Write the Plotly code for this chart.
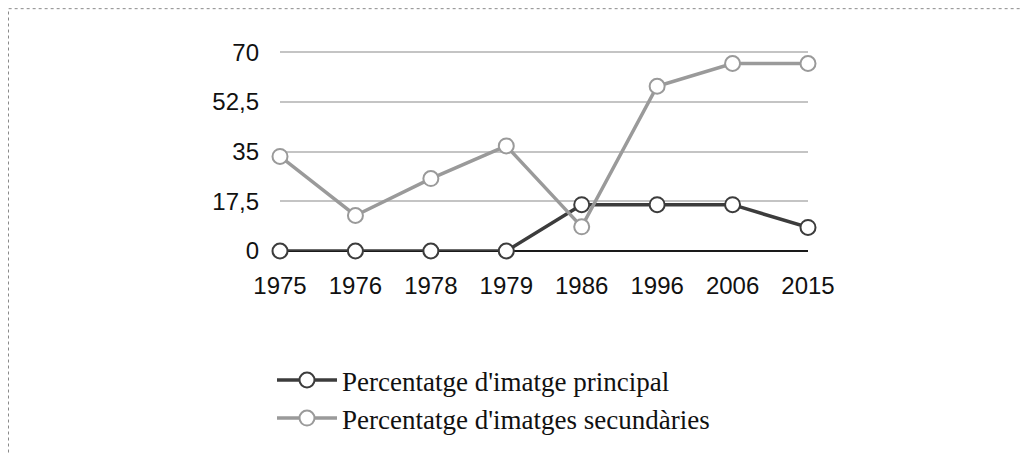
import plotly.graph_objects as go

years = ["1975", "1976", "1978", "1979", "1986", "1996", "2006", "2015"]
principal = [0, 0, 0, 0, 16.3, 16.3, 16.3, 8.3]
secundaries = [33.3, 12.5, 25.5, 37, 8.5, 58, 66, 66]
y_ticks = [0, 17.5, 35, 52.5, 70]
y_tick_text = ["0", "17,5", "35", "52,5", "70"]

# page body has an 8px margin; figure origin is at (8, 8) in the window
OFF = 8
W, H = 1029, 453
YMAX = 70.4
ph = 199 * YMAX / 70
L = 280 - OFF
R = W - (808 - OFF)
B = H - (251 - OFF)
T = H - B - ph
pw = W - L - R

fig = go.Figure()
fig.add_trace(go.Scatter(
    x=list(range(len(years))), y=principal, mode="lines+markers",
    name="Percentatge d'imatge principal",
    line=dict(color="#3c3c3c", width=3.5),
    marker=dict(symbol="circle", size=15, color="white",
                line=dict(color="#3c3c3c", width=2)),
    cliponaxis=False,
))
fig.add_trace(go.Scatter(
    x=list(range(len(years))), y=secundaries, mode="lines+markers",
    name="Percentatge d'imatges secundàries",
    line=dict(color="#9a9a9a", width=3.5),
    marker=dict(symbol="circle", size=15, color="white",
                line=dict(color="#9a9a9a", width=2)),
    cliponaxis=False,
))

def px_to_paper_x(px):
    return (px - OFF - L) / pw

def px_to_paper_y(py):
    return (H - B - (py - OFF)) / ph

fig.add_shape(type="rect", xref="paper", yref="paper",
              x0=px_to_paper_x(8.5), x1=px_to_paper_x(1023.5),
              y0=px_to_paper_y(520), y1=px_to_paper_y(8.5),
              line=dict(color="#8a8a8a", width=1, dash="dot"), layer="below")

fig.update_layout(
    width=W, height=H,
    margin=dict(l=L, r=R, t=T, b=B, pad=0),
    paper_bgcolor="white", plot_bgcolor="white",
    font=dict(family="Liberation Sans, Arial, sans-serif", size=24, color="#111111"),
    xaxis=dict(
        tickmode="array", tickvals=list(range(len(years))), ticktext=years,
        range=[0, 7], showgrid=False, zeroline=False, showline=False,
        ticks="", ticklabelstandoff=18,
        tickfont=dict(family="Liberation Sans, Arial, sans-serif", size=24, color="#111111"),
    ),
    yaxis=dict(
        tickmode="array", tickvals=y_ticks, ticktext=y_tick_text,
        range=[0, YMAX], showgrid=True, gridcolor="#c4c4c4", gridwidth=2,
        zeroline=True, zerolinecolor="#1a1a1a", zerolinewidth=1.5,
        showline=False, ticks="", ticklabelstandoff=20,
        tickfont=dict(family="Liberation Sans, Arial, sans-serif", size=24, color="#111111"),
    ),
    showlegend=True,
    legend=dict(
        x=px_to_paper_x(272), xanchor="left",
        y=px_to_paper_y(356), yanchor="top",
        bgcolor="rgba(0,0,0,0)",
        font=dict(family="Liberation Serif, Times New Roman, serif", size=27, color="#111111"),
        tracegroupgap=0, itemwidth=60,
    ),
)

fig.write_html("out.html")
